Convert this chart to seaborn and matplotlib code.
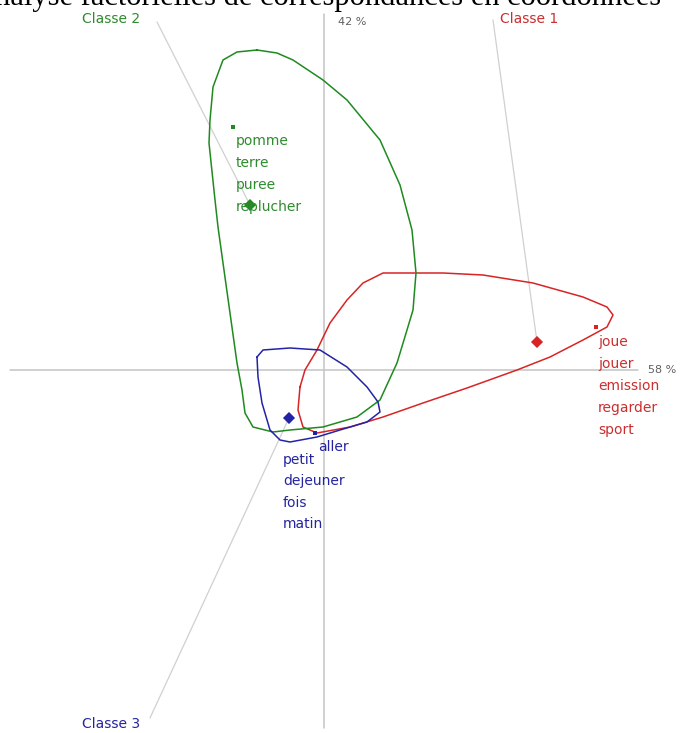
import matplotlib
matplotlib.use("Agg")
import matplotlib.pyplot as plt
import seaborn as sns
import pandas as pd

# Coordonnées factorielles (F1 = 58 %, F2 = 42 %)
classe2_x = [-0.67, -0.47, -0.31, -0.01, 0.23, 0.56, 0.76, 0.88, 0.92, 0.89, 0.83, 0.73, 0.56, 0.33,
             -0.01, -0.34, -0.51, -0.71, -0.79, -0.82, -0.87, -0.94, -1.01, -1.06, -1.09, -1.15,
             -1.14, -1.11, -1.01, -0.87]
classe2_y = [3.20, 3.17, 3.10, 2.90, 2.70, 2.30, 1.85, 1.40, 0.97, 0.60, 0.40, 0.07, -0.30, -0.47,
             -0.57, -0.60, -0.62, -0.57, -0.43, -0.20, 0.07, 0.57, 1.07, 1.43, 1.70, 2.27,
             2.50, 2.83, 3.10, 3.18]
classe1_x = [-0.24, -0.19, -0.07, 0.06, 0.23, 0.39, 0.59, 0.93, 1.19, 1.59, 2.09, 2.59, 2.83, 2.89,
             2.83, 2.59, 2.26, 1.93, 1.43, 0.99, 0.59, 0.26, -0.07, -0.21, -0.26]
classe1_y = [-0.17, 0.00, 0.20, 0.47, 0.70, 0.87, 0.97, 0.97, 0.97, 0.95, 0.87, 0.73, 0.63, 0.55,
             0.43, 0.30, 0.13, 0.00, -0.18, -0.33, -0.47, -0.57, -0.63, -0.57, -0.40]
classe3_x = [-0.67, -0.61, -0.34, -0.04, 0.23, 0.43, 0.54, 0.56, 0.43, 0.16, -0.07, -0.34, -0.44,
             -0.54, -0.62, -0.66]
classe3_y = [0.13, 0.20, 0.22, 0.20, 0.03, -0.17, -0.32, -0.42, -0.52, -0.60, -0.67, -0.72, -0.70,
             -0.60, -0.33, -0.07]

classes = ["Classe 1", "Classe 2", "Classe 3"]
centre_x = [2.13, -0.74, -0.35]
centre_y = [0.28, 1.65, -0.48]
mot_x = [2.72, -0.91, -0.09]
mot_y = [0.43, 2.43, -0.63]

mots_1 = ["joue", "jouer", "emission", "regarder", "sport"]
mots_2 = ["pomme", "terre", "puree", "replucher"]
mots_3 = ["petit", "dejeuner", "fois", "matin"]

couleurs = {"Classe 1": "#d82424", "Classe 2": "#1f8a1f", "Classe 3": "#2323a8"}
texte = {"Classe 1": "#cc2e2e", "Classe 2": "#2e8b2e", "Classe 3": "#2424a0"}

rows = []
for nom, xs, ys in [("Classe 1", classe1_x, classe1_y), ("Classe 2", classe2_x, classe2_y),
                    ("Classe 3", classe3_x, classe3_y)]:
    for i, (a, b) in enumerate(list(zip(xs, ys)) + [(xs[0], ys[0])]):
        rows.append({"classe": nom, "ordre": i, "F1": a, "F2": b})
contours = pd.DataFrame(rows)
centres = pd.DataFrame({"classe": classes, "F1": centre_x, "F2": centre_y})
points = pd.DataFrame({"classe": classes, "F1": mot_x, "F2": mot_y})

sns.set_style("white")
fig = plt.figure(figsize=(6.82, 7.33), dpi=100)
ax = fig.add_axes([0, 0, 1, 1])

# axes factoriels
ax.plot([0, 0], [-3.58, 3.56], color="#c4c4c4", lw=1.1, zorder=1)
ax.plot([-3.14, 3.14], [0, 0], color="#c4c4c4", lw=1.1, zorder=1)
ax.text(0.14, 3.48, "42 %", fontsize=8, color="#606060", va="center")
ax.text(3.24, 0.0, "58 %", fontsize=8, color="#606060", va="center")

# traits de rappel des classes
ax.plot([1.69, centre_x[0]], [3.50, centre_y[0]], color="#d0d0d0", lw=0.9, zorder=1)
ax.plot([-1.67, centre_x[1]], [3.48, centre_y[1]], color="#d0d0d0", lw=0.9, zorder=1)
ax.plot([-1.74, centre_x[2]], [-3.48, centre_y[2]], color="#d0d0d0", lw=0.9, zorder=1)

sns.lineplot(data=contours, x="F1", y="F2", hue="classe", units="classe", estimator=None,
             sort=False, palette=couleurs, lw=1.1, legend=False, ax=ax, zorder=2)
sns.scatterplot(data=centres, x="F1", y="F2", hue="classe", palette=couleurs, marker="D",
                s=38, linewidth=0, legend=False, ax=ax, zorder=3)
sns.scatterplot(data=points, x="F1", y="F2", hue="classe", palette=couleurs, marker="s",
                s=5, linewidth=0, legend=False, ax=ax, zorder=3)

fs = 10
ax.text(1.76, 3.51, "Classe 1", color=texte["Classe 1"], fontsize=fs, va="center")
ax.text(-2.42, 3.51, "Classe 2", color=texte["Classe 2"], fontsize=fs, va="center")
ax.text(-2.42, -3.54, "Classe 3", color=texte["Classe 3"], fontsize=fs, va="center")

for i, m in enumerate(mots_1):
    ax.text(2.74, 0.28 - 0.22 * i, m, color=texte["Classe 1"], fontsize=fs, va="center")
for i, m in enumerate(mots_2):
    ax.text(-0.88, 2.29 - 0.22 * i, m, color=texte["Classe 2"], fontsize=fs, va="center")
ax.text(-0.06, -0.77, "aller", color=texte["Classe 3"], fontsize=fs, va="center")
for i, m in enumerate(mots_3):
    ax.text(-0.41, -0.90 - 0.215 * i, m, color=texte["Classe 3"], fontsize=fs, va="center")

# titre tronqué en haut de l'image, comme sur la capture d'origine
ax.text(-3.51, 3.655, "Analyse factorielles de correspondances en coordonnées",
        family="Liberation Serif", fontsize=22, color="black", va="baseline", clip_on=False)

ax.set_xlim(-3.24, 3.58)
ax.set_ylim(-3.63, 3.70)
ax.axis("off")

fig.savefig("out.png", dpi=100)
